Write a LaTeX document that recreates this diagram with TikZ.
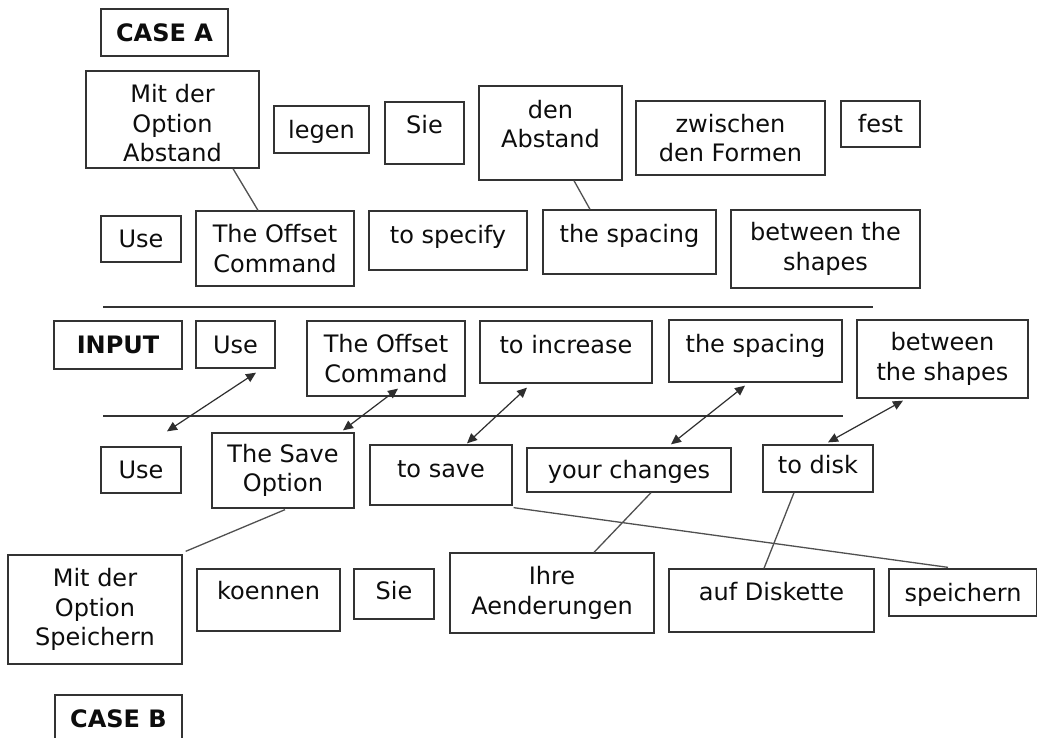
\documentclass[tikz,border=0pt]{standalone}
\usepackage{fontspec}
\setmainfont{DejaVu Sans}
\usetikzlibrary{arrows.meta}
\definecolor{boxgray}{HTML}{333333}
\definecolor{linegray}{HTML}{505050}
\definecolor{arrowgray}{HTML}{2E2E2E}
\begin{document}
\begin{tikzpicture}[x=1pt,y=-1pt,
  base/.style={draw=boxgray, line width=1.3pt, rectangle, inner sep=0pt, align=center,
    font=\fontsize{24}{29.5}\selectfont, text=black!95},
  one/.style={base, text height=20pt, text depth=2.5pt},
  multi/.style={base},
  bold/.style={font=\fontsize{24}{29.5}\selectfont\bfseries},
  link/.style={draw=linegray, line width=1.3pt},
  dbl/.style={draw=arrowgray, line width=1.2pt, {Triangle[length=10pt,width=9pt]}-{Triangle[length=10pt,width=9pt]}},
  rule/.style={draw=boxgray, line width=1.2pt}]
\useasboundingbox (0,0) rectangle (1037,737);
\fill[white] (0,0) rectangle (1037,737);

% ---------- Case A, German ----------
\node[one, bold, minimum width=127pt, minimum height=47pt] (caseA) at (164.5,32.5) {CASE A};
\node[multi, minimum width=173pt, minimum height=97pt, text height=84pt, text depth=0pt] (mitA) at (172.5,119.5) {Mit der\\Option\\Abstand};
\node[one, minimum width=95pt, minimum height=47pt] (legen) at (321.5,129.5) {legen};
\node[one, minimum width=79pt, minimum height=62pt, text height=12pt, text depth=10.5pt] (sieA) at (424.5,133) {Sie};
\node[multi, minimum width=143pt, minimum height=94pt, text height=38pt, text depth=9pt] (denAbstand) at (550.5,133) {den\\Abstand};
\node[multi, minimum width=189pt, minimum height=74pt] (zwischen) at (730.5,138) {zwischen\\den Formen};
\node[one, minimum width=79pt, minimum height=46pt] (fest) at (880.5,124) {fest};

% ---------- Case A, English ----------
\node[one, minimum width=80pt, minimum height=46pt] (useA) at (141,239) {Use};
\node[multi, minimum width=158pt, minimum height=75pt] (offsetA) at (275,248.5) {The Offset\\Command};
\node[one, minimum width=158pt, minimum height=59pt, text height=14.5pt, text depth=8pt] (specify) at (448,240.5) {to specify};
\node[one, minimum width=173pt, minimum height=64pt, text height=12pt, text depth=10.5pt] (spacingA) at (629.5,242) {the spacing};
\node[multi, minimum width=189pt, minimum height=78pt] (betweenA) at (825.5,249) {between the\\shapes};

\draw[link] ([xshift=60.5pt]mitA.south) -- ([xshift=-17pt]offsetA.north);
\draw[link] ([xshift=23.5pt]denAbstand.south) -- ([xshift=-39.5pt]spacingA.north);

% ---------- rules ----------
\draw[rule] (103,307) -- (873,307);
\draw[rule] (103,416) -- (843,416);

% ---------- Input ----------
\node[one, bold, minimum width=128pt, minimum height=48pt] (input) at (118,345) {INPUT};
\node[one, minimum width=79pt, minimum height=47pt] (useIn) at (235.5,344.5) {Use};
\node[multi, minimum width=158pt, minimum height=75pt] (offsetIn) at (386,358.5) {The Offset\\Command};
\node[one, minimum width=172pt, minimum height=62pt, text height=13pt, text depth=9.5pt] (increase) at (566,352) {to increase};
\node[one, minimum width=173pt, minimum height=62pt, text height=13pt, text depth=9.5pt] (spacingIn) at (755.5,351) {the spacing};
\node[multi, minimum width=171pt, minimum height=78pt] (betweenIn) at (942.5,359) {between\\the shapes};

% ---------- Case B, English ----------
\node[one, minimum width=80pt, minimum height=46pt] (useB) at (141,470) {Use};
\node[multi, minimum width=142pt, minimum height=75pt] (saveOpt) at (283,470.5) {The Save\\Option};
\node[one, minimum width=142pt, minimum height=60pt, text height=14pt, text depth=8.5pt] (toSave) at (441,475) {to save};
\node[one, minimum width=204pt, minimum height=44pt] (changes) at (629,470) {your changes};
\node[one, minimum width=110pt, minimum height=47pt, text height=16.5pt, text depth=6pt] (toDisk) at (818,468.5) {to disk};

% ---------- double arrows ----------
\draw[dbl] ([xshift=20.5pt,yshift=-4pt]useIn.south) -- ([xshift=26pt,yshift=15pt]useB.north);
\draw[dbl] ([xshift=12pt,yshift=8pt]offsetIn.south) -- ([xshift=60pt,yshift=2pt]saveOpt.north);
\draw[dbl] ([xshift=-39pt,yshift=-4pt]increase.south) -- ([xshift=26pt,yshift=1pt]toSave.north);
\draw[dbl] ([xshift=-10.5pt,yshift=-3pt]spacingIn.south) -- ([xshift=42pt,yshift=3pt]changes.north);
\draw[dbl] ([xshift=-39.5pt,yshift=-2pt]betweenIn.south) -- ([xshift=10pt,yshift=2pt]toDisk.north);

% ---------- Case B, German ----------
\node[multi, minimum width=174pt, minimum height=109pt] (mitB) at (95,609.5) {Mit der\\Option\\Speichern};
\node[one, minimum width=143pt, minimum height=62pt, text height=11pt, text depth=11.5pt] (koennen) at (268.5,600) {koennen};
\node[one, minimum width=80pt, minimum height=50pt, text height=17pt, text depth=5.5pt] (sieB) at (394,594) {Sie};
\node[multi, minimum width=204pt, minimum height=80pt] (ihre) at (552,593) {Ihre\\Aenderungen};
\node[one, minimum width=205pt, minimum height=63pt, text height=11.5pt, text depth=11pt] (diskette) at (771.5,600.5) {auf Diskette};
\node[one, minimum width=148pt, minimum height=47pt] (speichern) at (963,592.5) {speichern};
\node[one, bold, minimum width=127pt, minimum height=47pt] (caseB) at (118.5,718.5) {CASE B};

\draw[link] ([xshift=2pt,yshift=-1pt]saveOpt.south) -- ([xshift=3pt,yshift=3pt]mitB.north east);
\draw[link] ([xshift=1pt,yshift=-2pt]toSave.south east) -- ([xshift=-15pt,yshift=1pt]speichern.north);
\draw[link] ([xshift=22pt]changes.south) -- ([xshift=42pt]ihre.north);
\draw[link] ([xshift=-24pt]toDisk.south) -- ([xshift=-7.5pt]diskette.north);
\end{tikzpicture}
\end{document}
